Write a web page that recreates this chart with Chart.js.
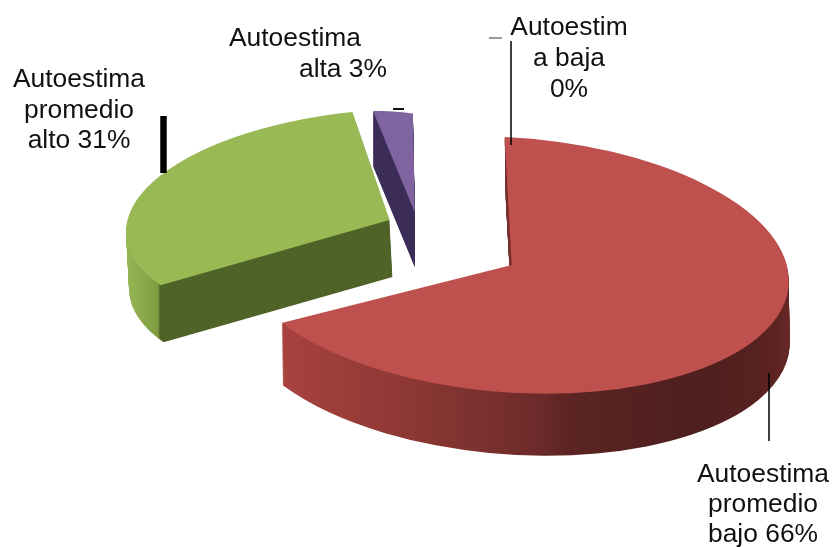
<!DOCTYPE html>
<html>
<head>
<meta charset="utf-8">
<style>
  html, body { margin: 0; padding: 0; background: #fff; }
  canvas { display: block; }
</style>
<script src="https://cdn.jsdelivr.net/npm/chart.js@4"></script>
</head>
<body>
<canvas id="myChart" width="834" height="547"></canvas>
<script>
var categories = ['Autoestima baja', 'Autoestima promedio bajo', 'Autoestima promedio alto', 'Autoestima alta'];
var percents = [0, 66, 31, 3];
var sliceColors = ['#4BACC6', '#BE504E', '#98B954', '#8064A2'];

// how far each slice is pulled out along its middle angle
var explode = [0, 108, 30, 23];
// per slice view of the flat pie, the fake 3d: [xx, xy, yx, yy]
var tilts = [
  [1, 0, 0, 0.45],
  [1, 0.025, 0.045, 0.462],
  [0.95, -0.045, -0.023, 0.402],
  [0.773, 0.007, 0.092, 0.357]
];
var explodeTilt = 0.703;
var depths = [0, 62, 57, 55];
var depthSlant = [0, 1, 3, 0];

// side colours, left to right on the page
var sideStops = [
  [],
  [[283, '#A8423F'], [420, '#8A3733'], [537, '#6C2B2A'], [570, '#5B2422'], [700, '#4D1F1E'], [770, '#5A2220'], [795, '#6A2A28']],
  [[120, '#9ABB59'], [150, '#86A447'], [158, '#7E9A40'], [160, '#4F6228'], [395, '#4F6228']],
  [[370, '#3C2C58'], [420, '#3C2C58']]
];

var labelLines = [
  ['Autoestima', 79, 87], ['promedio', 79, 118], ['alto 31%', 79, 148],
  ['Autoestima', 295, 46], ['alta 3%', 343, 77],
  ['Autoestim', 569, 35], ['a baja', 569, 66], ['0%', 569, 97],
  ['Autoestima', 763, 482], ['promedio', 763, 512], ['bajo 66%', 763, 542]
];
// x1, y1, x2, y2, width, colour
var leaders = [
  [163.5, 116, 163.5, 173, 6.5, '#000'],
  [393, 109, 404, 109, 2, '#111'],
  [489, 38, 502, 38, 1.5, '#777'],
  [511, 41, 511, 145, 1.5, '#000'],
  [769, 373, 769, 441, 1.5, '#000']
];

var fakePie = {
  id: 'fakePie',
  beforeDatasetsDraw: function(chart) {
    var ctx = chart.ctx;
    var arcs = chart.getDatasetMeta(0).data;
    var w = chart.width, h = chart.height;

    function place(c, i, down, side) {
      var arc = arcs[i], t = tilts[i];
      var mid = (arc.startAngle + arc.endAngle) / 2;
      c.translate(arc.x + Math.cos(mid) * explode[i] + side,
                  arc.y + Math.sin(mid) * explode[i] * explodeTilt + down);
      c.transform(t[0], t[2], t[1], t[3], 0, 0);
      c.translate(-arc.x, -arc.y);
    }

    for (var i = arcs.length - 1; i >= 0; i--) {
      if (percents[i] === 0) continue;
      // side walls: stacked copies of the arc, then recoloured
      var off = document.createElement('canvas');
      off.width = w; off.height = h;
      var oc = off.getContext('2d');
      for (var d = depths[i]; d >= 1; d--) {
        oc.save();
        place(oc, i, d, depthSlant[i] * d / depths[i]);
        arcs[i].draw(oc);
        oc.restore();
      }
      var stops = sideStops[i];
      var x0 = stops[0][0], x1 = stops[stops.length - 1][0];
      var grad = oc.createLinearGradient(x0, 0, x1, 0);
      stops.forEach(function(s) { grad.addColorStop((s[0] - x0) / (x1 - x0), s[1]); });
      oc.globalCompositeOperation = 'source-in';
      oc.fillStyle = grad;
      oc.fillRect(0, 0, w, h);
      ctx.drawImage(off, 0, 0);

      ctx.save();
      place(ctx, i, 0, 0);
      arcs[i].draw(ctx);
      ctx.restore();
    }
    return false;
  },
  afterDraw: function(chart) {
    var ctx = chart.ctx;
    ctx.save();
    leaders.forEach(function(l) {
      ctx.beginPath();
      ctx.moveTo(l[0], l[1]);
      ctx.lineTo(l[2], l[3]);
      ctx.lineWidth = l[4];
      ctx.strokeStyle = l[5];
      ctx.stroke();
    });
    ctx.fillStyle = '#111';
    ctx.font = '26.4px "Liberation Sans"';
    ctx.textAlign = 'center';
    ctx.textBaseline = 'alphabetic';
    labelLines.forEach(function(t) { ctx.fillText(t[0], t[1], t[2]); });
    ctx.restore();
  }
};

var myPieChart = new Chart(document.getElementById('myChart'), {
  type: 'pie',
  data: {
    labels: categories,
    datasets: [{
      data: percents,
      backgroundColor: sliceColors,
      borderWidth: 0,
      radius: 277
    }]
  },
  options: {
    responsive: false,
    animation: false,
    layout: { padding: { bottom: 90 } },
    plugins: { legend: { display: false }, tooltip: { enabled: false } }
  },
  plugins: [fakePie]
});
</script>
</body>
</html>
